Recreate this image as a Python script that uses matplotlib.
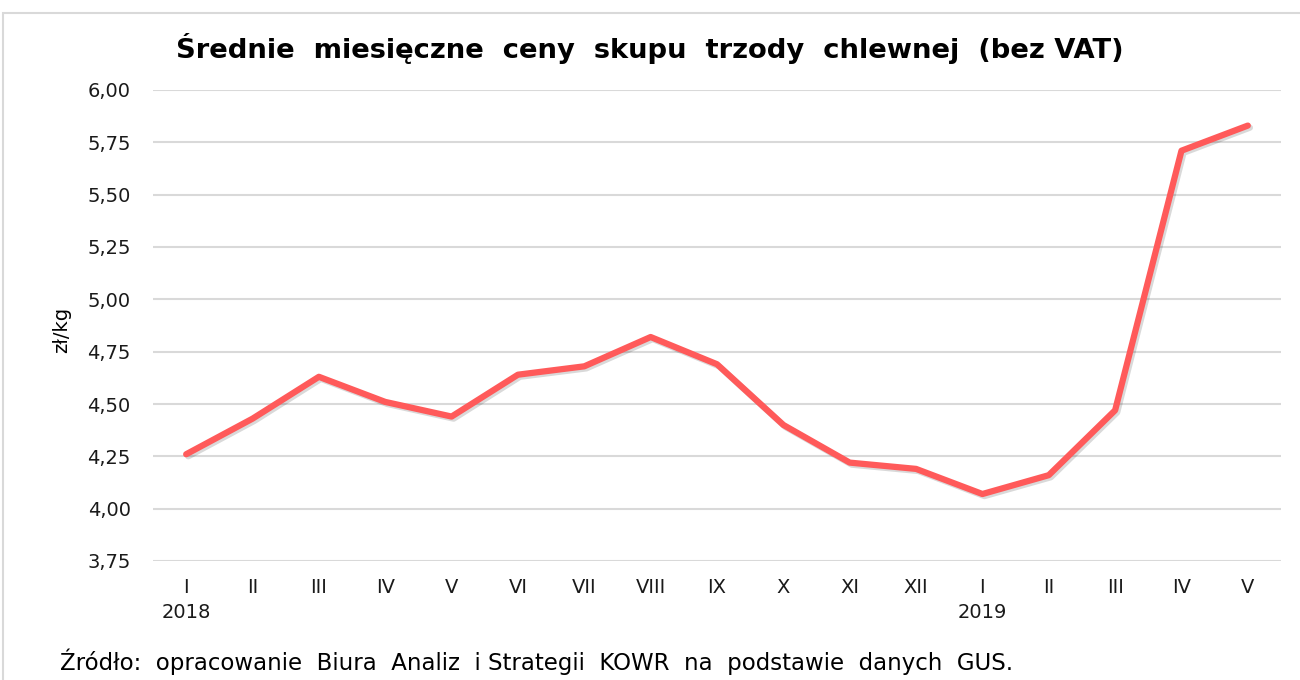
import matplotlib
matplotlib.use("Agg")
import matplotlib.pyplot as plt
import matplotlib.patheffects as pe
from matplotlib.patches import Rectangle

# data
months = ["I", "II", "III", "IV", "V", "VI", "VII", "VIII", "IX", "X", "XI", "XII",
          "I", "II", "III", "IV", "V"]
years = {0: "2018", 12: "2019"}
prices = [4.26, 4.43, 4.63, 4.51, 4.44, 4.64, 4.68, 4.82, 4.69, 4.40, 4.22, 4.19,
          4.07, 4.16, 4.47, 5.71, 5.83]
y_ticks = [3.75, 4.00, 4.25, 4.50, 4.75, 5.00, 5.25, 5.50, 5.75, 6.00]

plt.rcParams["font.family"] = ["DejaVu Sans"]

fig = plt.figure(figsize=(13, 6.8), dpi=100)
ax = fig.add_axes([153 / 1300, 1 - 561 / 680, (1281 - 153) / 1300, (561 - 90) / 680])

# outer frame of the chart
fig.patches.append(Rectangle((3 / 1300, -0.01), 1.0, 1 - 13 / 680 + 0.01,
                             transform=fig.transFigure, fill=False,
                             edgecolor="#d9d9d9", linewidth=1.5))

x = list(range(len(prices)))
ax.plot(x, prices, color="#ff5a5a", linewidth=4.5, solid_capstyle="round",
        solid_joinstyle="round",
        path_effects=[pe.SimpleLineShadow(offset=(1.5, -1.5), alpha=0.15), pe.Normal()],
        zorder=3)

ax.set_xlim(-0.5, len(prices) - 0.5)
ax.set_ylim(3.75, 6.00)
ax.set_yticks(y_ticks)
ax.set_yticklabels([("%.2f" % v).replace(".", ",") for v in y_ticks])
ax.set_xticks(x)
ax.set_xticklabels([m + ("\n" + years[i] if i in years else "") for i, m in enumerate(months)],
                   linespacing=1.45)
ax.tick_params(axis="both", length=0, labelsize=14, colors="#1a1a1a")
ax.tick_params(axis="y", pad=16)
ax.tick_params(axis="x", pad=12)

ax.grid(axis="y", color="#d9d9d9", linewidth=1.5)
ax.set_axisbelow(True)
for s in ax.spines.values():
    s.set_visible(False)

ax.set_ylabel("zł/kg", fontsize=14)
ax.yaxis.set_label_coords(-82 / 1128, (561 - 330) / 471)

fig.text(0.5, 1 - 48 / 680, "Średnie  miesięczne  ceny  skupu  trzody  chlewnej  (bez VAT)",
         ha="center", va="center", fontsize=19.7, fontweight="bold")
fig.text(60 / 1300, 1 - 662 / 680,
         "Źródło:  opracowanie  Biura  Analiz  i Strategii  KOWR  na  podstawie  danych  GUS.",
         ha="left", va="center", fontsize=16.5)

fig.savefig("out.png", dpi=100)
